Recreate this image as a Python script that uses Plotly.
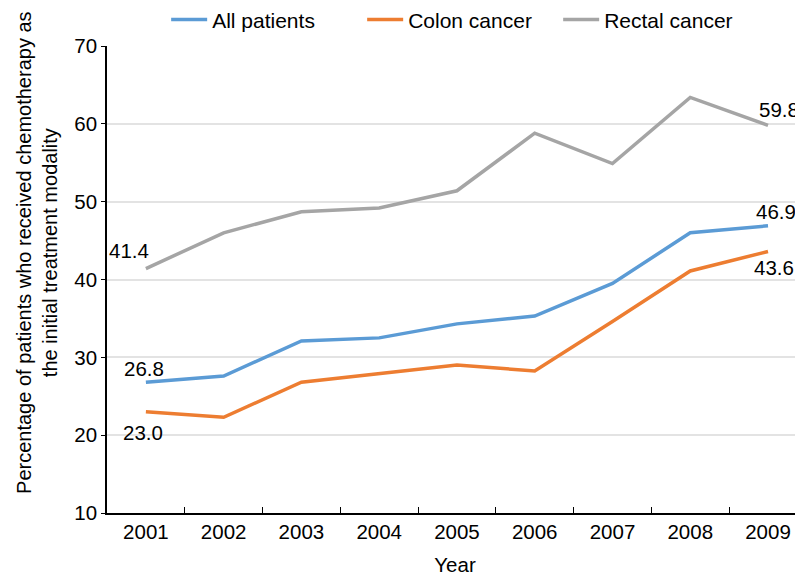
import plotly.graph_objects as go

years = ["2001", "2002", "2003", "2004", "2005", "2006", "2007", "2008", "2009"]
all_patients = [26.8, 27.6, 32.1, 32.5, 34.3, 35.3, 39.5, 46.0, 46.9]
colon_cancer = [23.0, 22.3, 26.8, 27.9, 29.0, 28.25, 34.6, 41.1, 43.6]
rectal_cancer = [41.4, 46.0, 48.7, 49.2, 51.4, 58.8, 54.9, 63.4, 59.8]

series = [
    ("All patients", all_patients, "#5b9bd5"),
    ("Colon cancer", colon_cancer, "#ed7d31"),
    ("Rectal cancer", rectal_cancer, "#a5a5a5"),
]

FONT = "Liberation Sans, Arial, Helvetica, sans-serif"

fig = go.Figure()
for name, vals, color in series:
    fig.add_trace(go.Scatter(x=years, y=vals, mode="lines", name=name,
                             line=dict(color=color, width=3.5)))

# data labels: (series values, index, xshift, yshift)
labels = [
    (rectal_cancer, 0, -17, 18),
    (all_patients, 0, -2, 14),
    (colon_cancer, 0, -3, -21),
    (rectal_cancer, 8, 11, 16),
    (all_patients, 8, 8, 14),
    (colon_cancer, 8, 6, -16),
]
for vals, i, dx, dy in labels:
    fig.add_annotation(x=i, y=vals[i], xref="x", yref="y", text=f"{vals[i]:.1f}", showarrow=False,
                       xshift=dx, yshift=dy, font=dict(size=20.5, color="black", family=FONT))

# y-axis title as a rotated annotation (allows exact placement)
fig.add_annotation(
    text="Percentage of patients who received chemotherapy as<br>the initial treatment modality",
    xref="paper", yref="paper", x=-0.1006, y=0.559, xanchor="center", yanchor="middle",
    textangle=-90, showarrow=False, font=dict(size=20, color="black", family=FONT),
)

fig.update_layout(
    width=795, height=570,
    margin=dict(l=99, r=0, t=38, b=65, autoexpand=False),
    paper_bgcolor="white", plot_bgcolor="white",
    font=dict(family=FONT, size=20, color="black"),
    legend=dict(orientation="h", x=0.085, xanchor="left", y=1.056, yanchor="middle",
                font=dict(size=21, family=FONT), itemwidth=36,
                entrywidth=145, entrywidthmode="pixels", traceorder="normal"),
    showlegend=True,
)
fig.update_xaxes(
    type="category", range=[-0.5, 8.45],
    showline=True, linecolor="black", linewidth=1.5,
    ticks="inside", ticklen=6, tickcolor="black", tickson="boundaries",
    showgrid=False,
    title=dict(text="Year", font=dict(size=20.5), standoff=15),
    tickfont=dict(size=20.5),
)
fig.update_yaxes(
    range=[10, 70], dtick=10,
    showline=True, linecolor="black", linewidth=1.5,
    ticks="outside", ticklen=4, tickcolor="black",
    showgrid=True, gridcolor="#e3e3e3", gridwidth=1.5,
    zeroline=False,
    tickfont=dict(size=20.5),
)

fig.write_html("out.html")
